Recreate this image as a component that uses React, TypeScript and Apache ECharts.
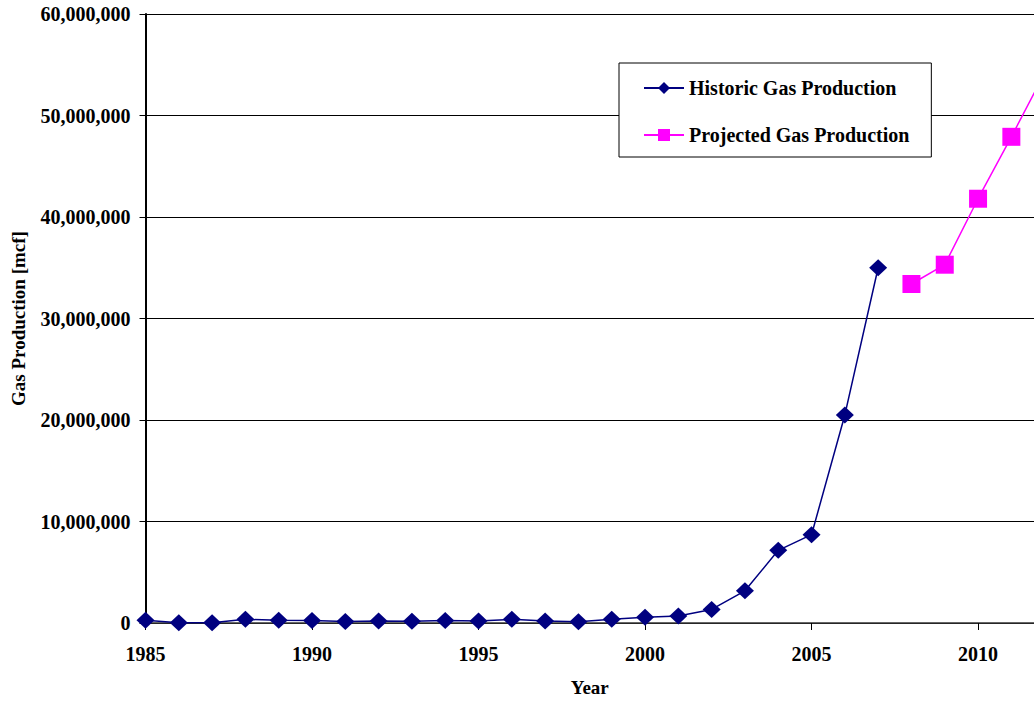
import React, { useEffect, useRef } from "react";
import * as echarts from "echarts";

// Annual gas production (mcf)
const historicYears = [
  1985, 1986, 1987, 1988, 1989, 1990, 1991, 1992, 1993, 1994, 1995, 1996,
  1997, 1998, 1999, 2000, 2001, 2002, 2003, 2004, 2005, 2006, 2007,
];
const historicValues = [
  260000, 30000, 20000, 360000, 260000, 250000, 150000, 200000, 170000,
  250000, 200000, 360000, 200000, 130000, 360000, 560000, 690000, 1340000,
  3170000, 7160000, 8700000, 20500000, 35000000,
];
const projectedYears = [2008, 2009, 2010, 2011, 2012];
const projectedValues = [33400000, 35300000, 41800000, 47900000, 54200000];

const yearTicks = [1985, 1990, 1995, 2000, 2005, 2010];
const xMin = 1985;
const xMax = 2011.68;
const yMax = 60000000;
const yStep = 10000000;

const FONT = "'Liberation Serif', 'Times New Roman', serif";

export default function App() {
  const ref = useRef<HTMLDivElement>(null);

  useEffect(() => {
    if (!ref.current) return;
    const chart = echarts.init(ref.current, undefined, { renderer: "svg" });
    chart.setOption({
      animation: false,
      backgroundColor: "#ffffff",
      textStyle: { fontFamily: FONT, fontWeight: "bold", color: "#000" },
      grid: { left: 145.5, right: 0, top: 14, bottom: 76, containLabel: false },
      legend: {
        orient: "vertical",
        left: 619,
        top: 63,
        padding: [15, 22, 12, 24],
        itemGap: 27,
        itemWidth: 40,
        itemHeight: 15,
        backgroundColor: "#ffffff",
        borderColor: "#000",
        borderWidth: 1,
        textStyle: {
          fontFamily: FONT,
          fontWeight: "bold",
          fontSize: 20,
          color: "#000",
        },
        data: ["Historic Gas Production", "Projected Gas Production"],
      },
      xAxis: {
        type: "value",
        min: xMin,
        max: xMax,
        interval: 5,
        name: "Year",
        nameLocation: "middle",
        nameGap: 55,
        nameTextStyle: { fontFamily: FONT, fontWeight: "bold", fontSize: 19, color: "#000" },
        axisLine: { show: true, onZero: false, lineStyle: { color: "#333", width: 1.5 } },
        axisTick: { show: true, length: 7, customValues: yearTicks, lineStyle: { color: "#000" } },
        axisLabel: {
          customValues: yearTicks,
          margin: 21,
          fontFamily: FONT,
          fontWeight: "bold",
          fontSize: 20,
          color: "#000",
          formatter: (v: number) => String(v),
        },
        splitLine: { show: false },
      },
      yAxis: {
        type: "value",
        min: 0,
        max: yMax,
        interval: yStep,
        name: "Gas Production [mcf]",
        nameLocation: "middle",
        nameGap: 118,
        nameRotate: 90,
        nameTextStyle: { fontFamily: FONT, fontWeight: "bold", fontSize: 19, color: "#000" },
        axisLine: { show: true, lineStyle: { color: "#000", width: 2 } },
        axisTick: { show: true, length: 6, lineStyle: { color: "#000" } },
        axisLabel: {
          margin: 15,
          fontFamily: FONT,
          fontWeight: "bold",
          fontSize: 20,
          color: "#000",
          formatter: (v: number) => v.toLocaleString("en-US"),
        },
        splitLine: { show: true, lineStyle: { color: "#000", width: 1 } },
      },
      series: [
        {
          name: "Historic Gas Production",
          type: "line",
          data: historicYears.map((y, i) => [y, historicValues[i]]),
          symbol: "diamond",
          symbolSize: [18, 17],
          itemStyle: { color: "#000080" },
          lineStyle: { color: "#000080", width: 1.5 },
          z: 3,
        },
        {
          name: "Projected Gas Production",
          type: "line",
          data: projectedYears.map((y, i) => [y, projectedValues[i]]),
          symbol: "rect",
          symbolSize: 18,
          itemStyle: { color: "#ff00ff" },
          lineStyle: { color: "#ff00ff", width: 1.5 },
          z: 3,
        },
      ],
    });
    return () => chart.dispose();
  }, []);

  return (
    <div
      ref={ref}
      style={{ position: "fixed", left: 0, top: 0, width: 1034, height: 702 }}
    />
  );
}
